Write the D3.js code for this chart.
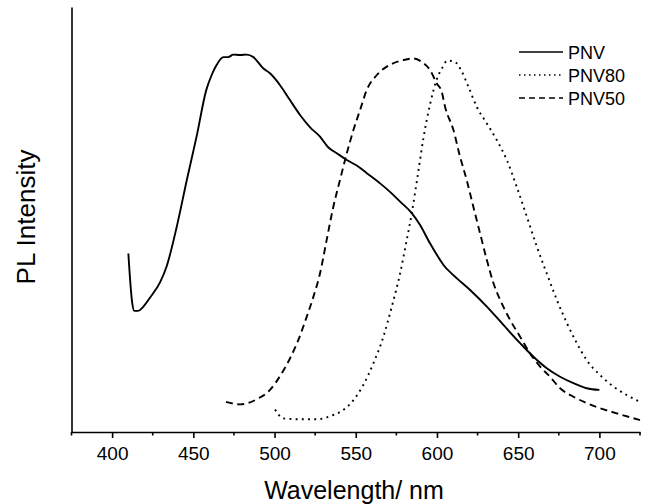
<!DOCTYPE html>
<html>
<head>
<meta charset="utf-8">
<script src="https://cdn.jsdelivr.net/npm/d3@7"></script>
<style>
  html, body { margin: 0; padding: 0; background: #fff; }
  svg { display: block; font-family: "Liberation Sans", Arial, sans-serif; }
</style>
</head>
<body>
<svg id="chart" width="648" height="504"></svg>
<script>
// ---- data (wavelength in nm, PL intensity in arbitrary units) ----
const pnvWl = [410.0, 412.4, 413.7, 416.0, 419.0, 423.3, 429.5, 433.6, 439.8, 446.0, 452.0, 458.0, 461.3, 464.4, 468.5, 471.5, 474.6, 478.8, 482.9, 487.0, 493.0, 497.2, 503.4, 509.5, 515.7, 521.9, 528.0, 533.0, 538.3, 544.5, 550.6, 556.8, 565.0, 571.1, 577.3, 584.5, 589.6, 595.7, 601.9, 604.0, 610.1, 620.4, 630.7, 640.9, 651.2, 659.4, 667.6, 675.8, 684.0, 692.2, 700.0];
const pnvI  = [42.0, 30.3, 28.5, 28.5, 29.4, 31.6, 35.2, 39.0, 48.3, 59.3, 69.5, 80.5, 84.0, 86.4, 88.2, 88.2, 88.8, 88.7, 88.8, 88.2, 85.6, 84.4, 81.6, 78.1, 74.6, 71.7, 69.5, 67.0, 65.6, 64.0, 62.7, 60.9, 58.5, 56.5, 54.2, 51.5, 48.7, 44.4, 40.5, 39.3, 36.9, 33.4, 29.5, 25.2, 20.9, 17.7, 15.0, 13.0, 11.5, 10.3, 9.9];

const pnv80Wl = [500.3, 505.4, 515.7, 526.0, 536.2, 542.4, 548.6, 554.7, 560.9, 567.0, 572.2, 577.3, 581.4, 584.5, 588.6, 591.6, 595.7, 599.9, 603.0, 606.5, 611.0, 615.3, 619.4, 624.5, 630.7, 636.8, 643.0, 649.1, 655.3, 661.5, 667.6, 673.8, 680.0, 686.1, 692.2, 700.4, 708.6, 716.8, 725.0];
const pnv80I  = [5.3, 3.2, 3.0, 3.0, 4.0, 5.2, 7.5, 11.1, 16.2, 22.4, 29.5, 37.3, 45.2, 51.5, 61.5, 69.0, 77.0, 83.0, 85.5, 87.4, 87.1, 84.8, 81.2, 76.5, 72.6, 68.7, 64.0, 57.7, 50.7, 43.6, 37.3, 31.1, 25.6, 20.9, 16.9, 13.4, 10.7, 8.7, 7.1];

const pnv50Wl = [470.1, 478.8, 490.0, 497.2, 504.4, 509.5, 514.6, 519.8, 523.9, 528.0, 532.1, 536.2, 540.3, 544.5, 548.6, 552.7, 556.8, 563.0, 571.1, 579.3, 585.5, 590.6, 595.7, 599.9, 602.9, 605.0, 610.1, 614.2, 618.3, 622.4, 626.5, 630.7, 634.8, 638.9, 645.0, 651.2, 657.3, 663.5, 669.6, 675.8, 684.0, 692.2, 700.4, 710.6, 725.0];
const pnv50I  = [7.1, 6.5, 7.9, 9.9, 13.8, 17.3, 21.6, 27.1, 31.8, 37.3, 45.2, 53.0, 59.3, 65.6, 71.1, 75.8, 80.5, 84.0, 86.4, 87.5, 87.9, 87.1, 85.2, 82.0, 80.1, 76.5, 71.1, 64.8, 59.3, 53.0, 46.8, 40.5, 35.0, 31.1, 26.4, 22.4, 18.5, 15.4, 13.0, 10.3, 8.3, 6.8, 5.6, 4.4, 2.8];

const seriesNames = ["PNV", "PNV80", "PNV50"];
const majorTicks = [400, 450, 500, 550, 600, 650, 700];
const minorTicks = [375, 425, 475, 525, 575, 625, 675, 725];
const xTitle = "Wavelength/ nm";
const yTitle = "PL Intensity";

// ---- layout ----
const svg = d3.select("#chart");
const plotLeft = 71.5, plotRight = 640, plotTop = 7, plotBottom = 432;

const x = d3.scaleLinear().domain([375, 725]).range([plotLeft, plotRight]);
const y = d3.scaleLinear().domain([0, 100]).range([plotBottom, plotTop]);

const series = [
  { name: seriesNames[0], wl: pnvWl, v: pnvI, dash: null, width: 1.9 },
  { name: seriesNames[1], wl: pnv80Wl, v: pnv80I, dash: "1.9,4.3", width: 1.9 },
  { name: seriesNames[2], wl: pnv50Wl, v: pnv50I, dash: "7,4.5", width: 1.9 }
];

const line = d3.line()
  .x(d => x(d[0]))
  .y(d => y(d[1]))
  .curve(d3.curveMonotoneX);

svg.append("defs").append("clipPath").attr("id", "plotclip")
  .append("rect").attr("x", plotLeft).attr("y", 0).attr("width", plotRight - plotLeft + 1).attr("height", plotBottom);

const plot = svg.append("g").attr("clip-path", "url(#plotclip)");
series.forEach(s => {
  const pts = s.wl.map((w, i) => [w, s.v[i]]);
  plot.append("path")
    .datum(pts)
    .attr("d", line)
    .attr("fill", "none")
    .attr("stroke", "#000")
    .attr("stroke-width", s.width)
    .attr("stroke-linejoin", "round")
    .attr("stroke-dasharray", s.dash);
});

// x axis
const xAxis = svg.append("g").attr("transform", `translate(0,${plotBottom})`)
  .call(d3.axisBottom(x).tickValues(majorTicks).tickSize(6).tickSizeOuter(0).tickFormat(d3.format("d")));
xAxis.select(".domain").attr("stroke-width", 1.6);
xAxis.selectAll(".tick line").attr("stroke-width", 1.6);
xAxis.selectAll(".tick text").attr("font-size", 19).attr("dy", "0.95em").attr("y", 9.5)
  .attr("font-family", "Liberation Sans, Arial, sans-serif").attr("fill", "#000");

svg.append("g").attr("transform", `translate(0,${plotBottom})`)
  .selectAll("line").data(minorTicks).join("line")
  .attr("x1", d => x(d)).attr("x2", d => x(d))
  .attr("y1", 0).attr("y2", 3.5)
  .attr("stroke", "#000").attr("stroke-width", 1.6);

// y axis (no ticks)
const yAxis = svg.append("g").attr("transform", `translate(${plotLeft},0)`)
  .call(d3.axisLeft(y).tickValues([]).tickSizeOuter(0));
yAxis.select(".domain").attr("stroke-width", 1.6);

// axis titles
svg.append("text")
  .attr("x", 354).attr("y", 499)
  .attr("text-anchor", "middle")
  .attr("font-size", 25)
  .attr("fill", "#000")
  .text(xTitle);

svg.append("text")
  .attr("transform", "translate(35,217) rotate(-90)")
  .attr("text-anchor", "middle")
  .attr("font-size", 26)
  .attr("fill", "#000")
  .text(yTitle);

// legend
const legendDash = [null, "1.5,3.5", "6,4"];
const legend = svg.append("g");
series.forEach((s, i) => {
  const ly = 52 + i * 23;
  legend.append("line")
    .attr("x1", 519).attr("x2", 563).attr("y1", ly).attr("y2", ly)
    .attr("stroke", "#000").attr("stroke-width", 1.6)
    .attr("stroke-dasharray", legendDash[i]);
  legend.append("text")
    .attr("x", 568).attr("y", ly + 6.5)
    .attr("font-size", 18).attr("fill", "#000")
    .text(s.name);
});
</script>
</body>
</html>
